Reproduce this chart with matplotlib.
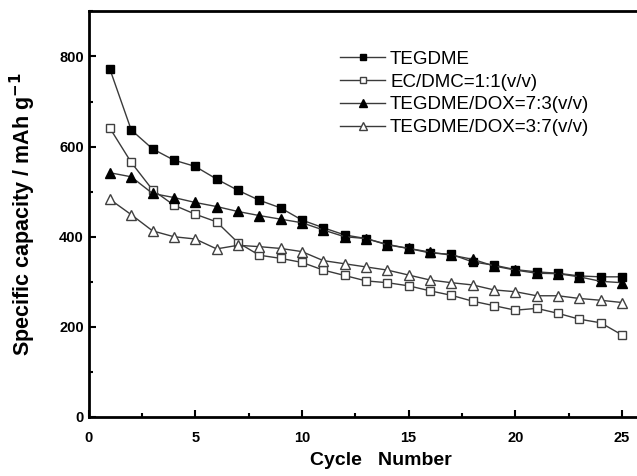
import numpy as np
import matplotlib
matplotlib.use("Agg")
from matplotlib import pyplot as plt
from matplotlib.ticker import MultipleLocator

cycles = np.arange(1, 26)

tegdme = [772, 637, 595, 570, 556, 528, 503, 481, 464, 437, 420, 404,
          396, 383, 374, 364, 361, 344, 337, 327, 322, 319, 313, 311, 311]
ec_dmc = [641, 565, 504, 470, 450, 433, 387, 359, 352, 343, 326, 314,
          302, 298, 291, 280, 270, 257, 247, 237, 241, 230, 217, 209, 182]
dox_73 = [542, 533, 496, 487, 476, 467, 456, 447, 439, 431, 415, 400,
          396, 382, 374, 366, 359, 350, 335, 326, 319, 318, 311, 301, 298]
dox_37 = [483, 449, 413, 400, 395, 373, 381, 378, 374, 367, 347, 340,
          333, 326, 315, 304, 298, 293, 282, 278, 269, 269, 263, 259, 254]

labels = ["TEGDME", "EC/DMC=1:1(v/v)", "TEGDME/DOX=7:3(v/v)", "TEGDME/DOX=3:7(v/v)"]

plt.rcParams['font.family'] = ['Liberation Sans', 'DejaVu Sans']

fig = plt.figure(figsize=(6.37, 4.76), dpi=100)
# axes run past the right edge of the picture, as in the cropped original
ax = fig.add_axes([0.139, 0.124, 0.871, 0.852])

line_c = '#3a3a3a'
ax.plot(cycles, tegdme, color=line_c, lw=1, marker='s', ms=5.8,
        mfc='black', mec='black', label=labels[0])
ax.plot(cycles, ec_dmc, color=line_c, lw=1, marker='s', ms=5.8,
        mfc='white', mec='#404040', mew=1, label=labels[1])
ax.plot(cycles, dox_73, color=line_c, lw=1, marker='^', ms=6.8,
        mfc='black', mec='black', label=labels[2])
ax.plot(cycles, dox_37, color=line_c, lw=1, marker='^', ms=6.8,
        mfc='white', mec='#404040', mew=1, label=labels[3])

ax.set_xlim(0, 26)
ax.set_ylim(0, 900)
ax.set_xticks([0, 5, 10, 15, 20, 25])
ax.set_yticks([0, 200, 400, 600, 800])
ax.xaxis.set_minor_locator(MultipleLocator(2.5))
ax.yaxis.set_minor_locator(MultipleLocator(100))
ax.tick_params(which='both', direction='in', width=1.5, labelsize=10.5)
ax.tick_params(which='major', length=5)
ax.tick_params(which='minor', length=3)
ax.tick_params(axis='x', pad=10)
ax.tick_params(axis='y', pad=3.5)
for lab in ax.get_xticklabels() + ax.get_yticklabels():
    lab.set_fontweight('bold')
for sp in ax.spines.values():
    sp.set_linewidth(2)

ax.set_xlabel("Cycle   Number", fontsize=14, fontweight='bold')
ax.xaxis.set_label_coords(0.527, -0.086)
ax.set_ylabel("Specific capacity / mAh g$^{\\mathbf{-1}}$", fontsize=15.5,
              fontweight='bold', labelpad=15)

ax.legend(loc='upper left', bbox_to_anchor=(0.522, 0.909),
          bbox_transform=fig.transFigure, frameon=False, fontsize=13.5,
          handlelength=2.4, handletextpad=0.27, labelspacing=0.3,
          borderaxespad=0, markerscale=0.8)

fig.savefig("out.png", dpi=100)
